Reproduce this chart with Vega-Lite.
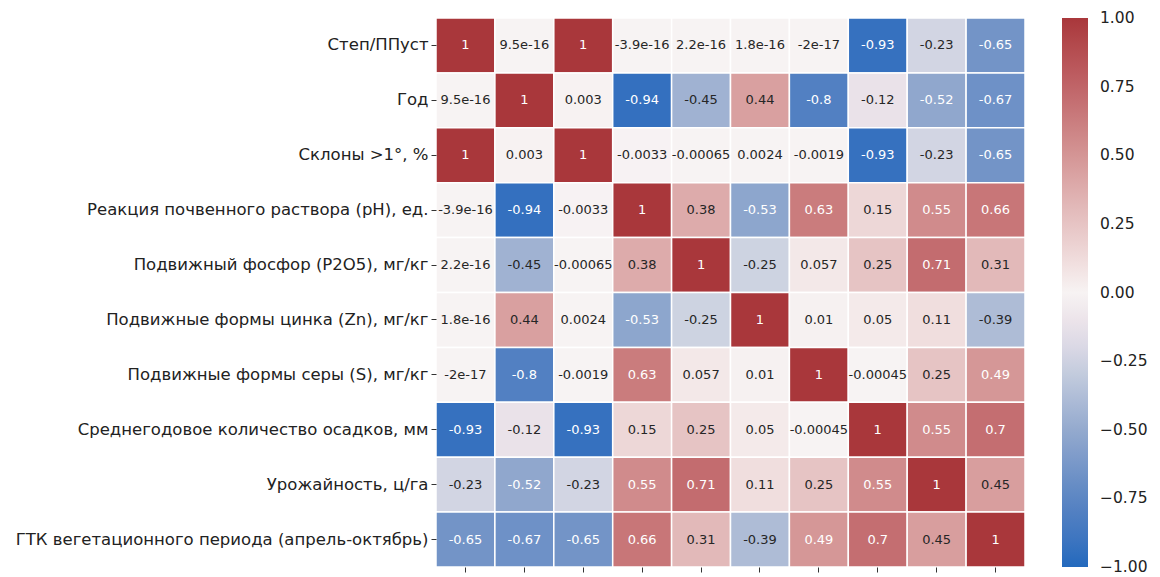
{
  "$schema": "https://vega.github.io/schema/vega-lite/v6.json",
  "width": 589,
  "height": 549,
  "autosize": {"type": "none"},
  "padding": {"left": 436, "top": 18, "right": 135, "bottom": 10},
  "background": "white",
  "config": {"view": {"stroke": null}, "font": "DejaVu Sans"},
  "data": {"values": [
    {"row": "Степ/ППуст", "col": "Степ/ППуст", "v": 1, "label": "1"},
    {"row": "Степ/ППуст", "col": "Год", "v": 9.5e-16, "label": "9.5e-16"},
    {"row": "Степ/ППуст", "col": "Склоны >1°, %", "v": 1, "label": "1"},
    {"row": "Степ/ППуст", "col": "Реакция почвенного раствора (pH), ед.", "v": -3.9e-16, "label": "-3.9e-16"},
    {"row": "Степ/ППуст", "col": "Подвижный фосфор (P2O5), мг/кг", "v": 2.2e-16, "label": "2.2e-16"},
    {"row": "Степ/ППуст", "col": "Подвижные формы цинка (Zn), мг/кг", "v": 1.8e-16, "label": "1.8e-16"},
    {"row": "Степ/ППуст", "col": "Подвижные формы серы (S), мг/кг", "v": -2e-17, "label": "-2e-17"},
    {"row": "Степ/ППуст", "col": "Среднегодовое количество осадков, мм", "v": -0.93, "label": "-0.93"},
    {"row": "Степ/ППуст", "col": "Урожайность, ц/га", "v": -0.23, "label": "-0.23"},
    {"row": "Степ/ППуст", "col": "ГТК вегетационного периода (апрель-октябрь)", "v": -0.65, "label": "-0.65"},

    {"row": "Год", "col": "Степ/ППуст", "v": 9.5e-16, "label": "9.5e-16"},
    {"row": "Год", "col": "Год", "v": 1, "label": "1"},
    {"row": "Год", "col": "Склоны >1°, %", "v": 0.003, "label": "0.003"},
    {"row": "Год", "col": "Реакция почвенного раствора (pH), ед.", "v": -0.94, "label": "-0.94"},
    {"row": "Год", "col": "Подвижный фосфор (P2O5), мг/кг", "v": -0.45, "label": "-0.45"},
    {"row": "Год", "col": "Подвижные формы цинка (Zn), мг/кг", "v": 0.44, "label": "0.44"},
    {"row": "Год", "col": "Подвижные формы серы (S), мг/кг", "v": -0.8, "label": "-0.8"},
    {"row": "Год", "col": "Среднегодовое количество осадков, мм", "v": -0.12, "label": "-0.12"},
    {"row": "Год", "col": "Урожайность, ц/га", "v": -0.52, "label": "-0.52"},
    {"row": "Год", "col": "ГТК вегетационного периода (апрель-октябрь)", "v": -0.67, "label": "-0.67"},

    {"row": "Склоны >1°, %", "col": "Степ/ППуст", "v": 1, "label": "1"},
    {"row": "Склоны >1°, %", "col": "Год", "v": 0.003, "label": "0.003"},
    {"row": "Склоны >1°, %", "col": "Склоны >1°, %", "v": 1, "label": "1"},
    {"row": "Склоны >1°, %", "col": "Реакция почвенного раствора (pH), ед.", "v": -0.0033, "label": "-0.0033"},
    {"row": "Склоны >1°, %", "col": "Подвижный фосфор (P2O5), мг/кг", "v": -0.00065, "label": "-0.00065"},
    {"row": "Склоны >1°, %", "col": "Подвижные формы цинка (Zn), мг/кг", "v": 0.0024, "label": "0.0024"},
    {"row": "Склоны >1°, %", "col": "Подвижные формы серы (S), мг/кг", "v": -0.0019, "label": "-0.0019"},
    {"row": "Склоны >1°, %", "col": "Среднегодовое количество осадков, мм", "v": -0.93, "label": "-0.93"},
    {"row": "Склоны >1°, %", "col": "Урожайность, ц/га", "v": -0.23, "label": "-0.23"},
    {"row": "Склоны >1°, %", "col": "ГТК вегетационного периода (апрель-октябрь)", "v": -0.65, "label": "-0.65"},

    {"row": "Реакция почвенного раствора (pH), ед.", "col": "Степ/ППуст", "v": -3.9e-16, "label": "-3.9e-16"},
    {"row": "Реакция почвенного раствора (pH), ед.", "col": "Год", "v": -0.94, "label": "-0.94"},
    {"row": "Реакция почвенного раствора (pH), ед.", "col": "Склоны >1°, %", "v": -0.0033, "label": "-0.0033"},
    {"row": "Реакция почвенного раствора (pH), ед.", "col": "Реакция почвенного раствора (pH), ед.", "v": 1, "label": "1"},
    {"row": "Реакция почвенного раствора (pH), ед.", "col": "Подвижный фосфор (P2O5), мг/кг", "v": 0.38, "label": "0.38"},
    {"row": "Реакция почвенного раствора (pH), ед.", "col": "Подвижные формы цинка (Zn), мг/кг", "v": -0.53, "label": "-0.53"},
    {"row": "Реакция почвенного раствора (pH), ед.", "col": "Подвижные формы серы (S), мг/кг", "v": 0.63, "label": "0.63"},
    {"row": "Реакция почвенного раствора (pH), ед.", "col": "Среднегодовое количество осадков, мм", "v": 0.15, "label": "0.15"},
    {"row": "Реакция почвенного раствора (pH), ед.", "col": "Урожайность, ц/га", "v": 0.55, "label": "0.55"},
    {"row": "Реакция почвенного раствора (pH), ед.", "col": "ГТК вегетационного периода (апрель-октябрь)", "v": 0.66, "label": "0.66"},

    {"row": "Подвижный фосфор (P2O5), мг/кг", "col": "Степ/ППуст", "v": 2.2e-16, "label": "2.2e-16"},
    {"row": "Подвижный фосфор (P2O5), мг/кг", "col": "Год", "v": -0.45, "label": "-0.45"},
    {"row": "Подвижный фосфор (P2O5), мг/кг", "col": "Склоны >1°, %", "v": -0.00065, "label": "-0.00065"},
    {"row": "Подвижный фосфор (P2O5), мг/кг", "col": "Реакция почвенного раствора (pH), ед.", "v": 0.38, "label": "0.38"},
    {"row": "Подвижный фосфор (P2O5), мг/кг", "col": "Подвижный фосфор (P2O5), мг/кг", "v": 1, "label": "1"},
    {"row": "Подвижный фосфор (P2O5), мг/кг", "col": "Подвижные формы цинка (Zn), мг/кг", "v": -0.25, "label": "-0.25"},
    {"row": "Подвижный фосфор (P2O5), мг/кг", "col": "Подвижные формы серы (S), мг/кг", "v": 0.057, "label": "0.057"},
    {"row": "Подвижный фосфор (P2O5), мг/кг", "col": "Среднегодовое количество осадков, мм", "v": 0.25, "label": "0.25"},
    {"row": "Подвижный фосфор (P2O5), мг/кг", "col": "Урожайность, ц/га", "v": 0.71, "label": "0.71"},
    {"row": "Подвижный фосфор (P2O5), мг/кг", "col": "ГТК вегетационного периода (апрель-октябрь)", "v": 0.31, "label": "0.31"},

    {"row": "Подвижные формы цинка (Zn), мг/кг", "col": "Степ/ППуст", "v": 1.8e-16, "label": "1.8e-16"},
    {"row": "Подвижные формы цинка (Zn), мг/кг", "col": "Год", "v": 0.44, "label": "0.44"},
    {"row": "Подвижные формы цинка (Zn), мг/кг", "col": "Склоны >1°, %", "v": 0.0024, "label": "0.0024"},
    {"row": "Подвижные формы цинка (Zn), мг/кг", "col": "Реакция почвенного раствора (pH), ед.", "v": -0.53, "label": "-0.53"},
    {"row": "Подвижные формы цинка (Zn), мг/кг", "col": "Подвижный фосфор (P2O5), мг/кг", "v": -0.25, "label": "-0.25"},
    {"row": "Подвижные формы цинка (Zn), мг/кг", "col": "Подвижные формы цинка (Zn), мг/кг", "v": 1, "label": "1"},
    {"row": "Подвижные формы цинка (Zn), мг/кг", "col": "Подвижные формы серы (S), мг/кг", "v": 0.01, "label": "0.01"},
    {"row": "Подвижные формы цинка (Zn), мг/кг", "col": "Среднегодовое количество осадков, мм", "v": 0.05, "label": "0.05"},
    {"row": "Подвижные формы цинка (Zn), мг/кг", "col": "Урожайность, ц/га", "v": 0.11, "label": "0.11"},
    {"row": "Подвижные формы цинка (Zn), мг/кг", "col": "ГТК вегетационного периода (апрель-октябрь)", "v": -0.39, "label": "-0.39"},

    {"row": "Подвижные формы серы (S), мг/кг", "col": "Степ/ППуст", "v": -2e-17, "label": "-2e-17"},
    {"row": "Подвижные формы серы (S), мг/кг", "col": "Год", "v": -0.8, "label": "-0.8"},
    {"row": "Подвижные формы серы (S), мг/кг", "col": "Склоны >1°, %", "v": -0.0019, "label": "-0.0019"},
    {"row": "Подвижные формы серы (S), мг/кг", "col": "Реакция почвенного раствора (pH), ед.", "v": 0.63, "label": "0.63"},
    {"row": "Подвижные формы серы (S), мг/кг", "col": "Подвижный фосфор (P2O5), мг/кг", "v": 0.057, "label": "0.057"},
    {"row": "Подвижные формы серы (S), мг/кг", "col": "Подвижные формы цинка (Zn), мг/кг", "v": 0.01, "label": "0.01"},
    {"row": "Подвижные формы серы (S), мг/кг", "col": "Подвижные формы серы (S), мг/кг", "v": 1, "label": "1"},
    {"row": "Подвижные формы серы (S), мг/кг", "col": "Среднегодовое количество осадков, мм", "v": -0.00045, "label": "-0.00045"},
    {"row": "Подвижные формы серы (S), мг/кг", "col": "Урожайность, ц/га", "v": 0.25, "label": "0.25"},
    {"row": "Подвижные формы серы (S), мг/кг", "col": "ГТК вегетационного периода (апрель-октябрь)", "v": 0.49, "label": "0.49"},

    {"row": "Среднегодовое количество осадков, мм", "col": "Степ/ППуст", "v": -0.93, "label": "-0.93"},
    {"row": "Среднегодовое количество осадков, мм", "col": "Год", "v": -0.12, "label": "-0.12"},
    {"row": "Среднегодовое количество осадков, мм", "col": "Склоны >1°, %", "v": -0.93, "label": "-0.93"},
    {"row": "Среднегодовое количество осадков, мм", "col": "Реакция почвенного раствора (pH), ед.", "v": 0.15, "label": "0.15"},
    {"row": "Среднегодовое количество осадков, мм", "col": "Подвижный фосфор (P2O5), мг/кг", "v": 0.25, "label": "0.25"},
    {"row": "Среднегодовое количество осадков, мм", "col": "Подвижные формы цинка (Zn), мг/кг", "v": 0.05, "label": "0.05"},
    {"row": "Среднегодовое количество осадков, мм", "col": "Подвижные формы серы (S), мг/кг", "v": -0.00045, "label": "-0.00045"},
    {"row": "Среднегодовое количество осадков, мм", "col": "Среднегодовое количество осадков, мм", "v": 1, "label": "1"},
    {"row": "Среднегодовое количество осадков, мм", "col": "Урожайность, ц/га", "v": 0.55, "label": "0.55"},
    {"row": "Среднегодовое количество осадков, мм", "col": "ГТК вегетационного периода (апрель-октябрь)", "v": 0.7, "label": "0.7"},

    {"row": "Урожайность, ц/га", "col": "Степ/ППуст", "v": -0.23, "label": "-0.23"},
    {"row": "Урожайность, ц/га", "col": "Год", "v": -0.52, "label": "-0.52"},
    {"row": "Урожайность, ц/га", "col": "Склоны >1°, %", "v": -0.23, "label": "-0.23"},
    {"row": "Урожайность, ц/га", "col": "Реакция почвенного раствора (pH), ед.", "v": 0.55, "label": "0.55"},
    {"row": "Урожайность, ц/га", "col": "Подвижный фосфор (P2O5), мг/кг", "v": 0.71, "label": "0.71"},
    {"row": "Урожайность, ц/га", "col": "Подвижные формы цинка (Zn), мг/кг", "v": 0.11, "label": "0.11"},
    {"row": "Урожайность, ц/га", "col": "Подвижные формы серы (S), мг/кг", "v": 0.25, "label": "0.25"},
    {"row": "Урожайность, ц/га", "col": "Среднегодовое количество осадков, мм", "v": 0.55, "label": "0.55"},
    {"row": "Урожайность, ц/га", "col": "Урожайность, ц/га", "v": 1, "label": "1"},
    {"row": "Урожайность, ц/га", "col": "ГТК вегетационного периода (апрель-октябрь)", "v": 0.45, "label": "0.45"},

    {"row": "ГТК вегетационного периода (апрель-октябрь)", "col": "Степ/ППуст", "v": -0.65, "label": "-0.65"},
    {"row": "ГТК вегетационного периода (апрель-октябрь)", "col": "Год", "v": -0.67, "label": "-0.67"},
    {"row": "ГТК вегетационного периода (апрель-октябрь)", "col": "Склоны >1°, %", "v": -0.65, "label": "-0.65"},
    {"row": "ГТК вегетационного периода (апрель-октябрь)", "col": "Реакция почвенного раствора (pH), ед.", "v": 0.66, "label": "0.66"},
    {"row": "ГТК вегетационного периода (апрель-октябрь)", "col": "Подвижный фосфор (P2O5), мг/кг", "v": 0.31, "label": "0.31"},
    {"row": "ГТК вегетационного периода (апрель-октябрь)", "col": "Подвижные формы цинка (Zn), мг/кг", "v": -0.39, "label": "-0.39"},
    {"row": "ГТК вегетационного периода (апрель-октябрь)", "col": "Подвижные формы серы (S), мг/кг", "v": 0.49, "label": "0.49"},
    {"row": "ГТК вегетационного периода (апрель-октябрь)", "col": "Среднегодовое количество осадков, мм", "v": 0.7, "label": "0.7"},
    {"row": "ГТК вегетационного периода (апрель-октябрь)", "col": "Урожайность, ц/га", "v": 0.45, "label": "0.45"},
    {"row": "ГТК вегетационного периода (апрель-октябрь)", "col": "ГТК вегетационного периода (апрель-октябрь)", "v": 1, "label": "1"}
  ]},
  "encoding": {
    "x": {"field": "col", "type": "nominal", "sort": null,
      "axis": {"title": null, "labels": false, "ticks": true, "tickSize": 5, "tickColor": "#333", "domain": false, "orient": "bottom"}},
    "y": {"field": "row", "type": "nominal", "sort": null,
      "axis": {"title": null, "labelFont": "DejaVu Sans", "labelFontSize": 16.5, "labelColor": "#222", "labelPadding": 3, "tickSize": 5, "tickColor": "#333", "domain": false, "labelLimit": 500}}
  },
  "layer": [
    {
      "mark": {"type": "rect", "stroke": "white", "strokeWidth": 1.5},
      "encoding": {
        "color": {"field": "v", "type": "quantitative",
          "scale": {"domain": [-1, -0.75, -0.5, -0.25, 0, 0.25, 0.5, 0.75, 1],
                    "range": ["#2369bd", "#5b86c3", "#94aace", "#cdd3e1", "#f7f3f3", "#e6c4c4", "#d49595", "#c06468", "#a9373b"]},
          "legend": {"title": null, "orient": "none", "legendX": 626, "legendY": 0, "direction": "vertical",
            "gradientLength": 549, "gradientThickness": 26, "gradientStrokeWidth": 0,
            "values": [-1, -0.75, -0.5, -0.25, 0, 0.25, 0.5, 0.75, 1], "format": ".2f",
            "labelFont": "DejaVu Sans", "labelFontSize": 15.5, "labelColor": "#222", "labelOffset": 12, "labelOverlap": false,
            "encode": {"labels": {"update": {"baseline": {"value": "middle"}}}}}}
      }
    },
    {
      "mark": {"type": "text", "font": "DejaVu Sans", "fontSize": 13},
      "encoding": {
        "text": {"field": "label"},
        "color": {"condition": {"test": "datum.v > 0.47 || datum.v < -0.47", "value": "#ffffff"}, "value": "#262626"}
      }
    }
  ]
}
